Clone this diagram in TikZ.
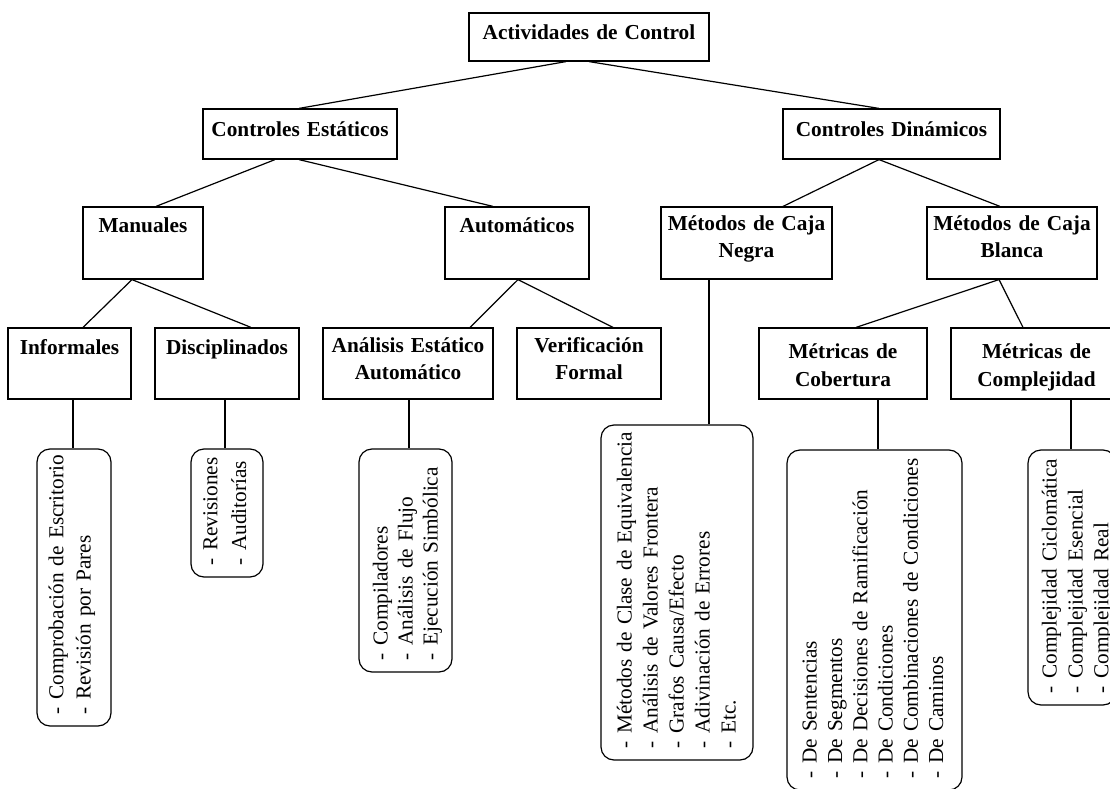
\documentclass[tikz,border=0pt]{standalone}
\usepackage{fontspec}
\setmainfont{Liberation Serif}
\newcommand{\lsttab}[1]{\begin{tabular}[t]{@{}l@{}}#1\end{tabular}}
\tikzset{
  hb/.style={draw, line width=1.2pt, rectangle, inner sep=0pt, align=center, font=\fontsize{21.3}{27}\selectfont\bfseries},
  lb/.style={draw, line width=1.2pt, rectangle, rounded corners=13pt, inner xsep=12pt, inner ysep=0pt, rotate=90, align=left},
  conn/.style={line width=1.2pt},
}
\begin{document}
\begin{tikzpicture}[x=1pt,y=-1pt]
\useasboundingbox (0,0) rectangle (1110,789);
\clip (0,0) rectangle (1110,789);

% header boxes
\node[hb, minimum width=240pt, text width=240pt, minimum height=48pt, text height=27pt, text depth=21pt] (root) at (589,37) {Actividades de Control};
\node[hb, minimum width=194pt, text width=194pt, minimum height=50pt, text height=27.5pt, text depth=22.5pt] (ce) at (300,134) {Controles Estáticos};
\node[hb, minimum width=217pt, text width=217pt, minimum height=50pt, text height=27.5pt, text depth=22.5pt] (cd) at (891.5,134) {Controles Dinámicos};
\node[hb, minimum width=120pt, text width=120pt, minimum height=72pt, text height=25pt, text depth=47pt] (man) at (143,243) {Manuales};
\node[hb, minimum width=144pt, text width=144pt, minimum height=72pt, text height=25pt, text depth=47pt] (aut) at (517,243) {Automáticos};
\node[hb, minimum width=171pt, text width=171pt, minimum height=72pt, text height=23pt, text depth=49pt] (mcn) at (746.5,243) {Métodos de Caja\\Negra};
\node[hb, minimum width=170pt, text width=170pt, minimum height=72pt, text height=23pt, text depth=49pt] (mcb) at (1012,243) {Métodos de Caja\\Blanca};
\node[hb, minimum width=123pt, text width=123pt, minimum height=71pt, text height=26pt, text depth=45pt] (inf) at (69.5,363.5) {Informales};
\node[hb, minimum width=144pt, text width=144pt, minimum height=71pt, text height=26pt, text depth=45pt] (dis) at (227,363.5) {Disciplinados};
\node[hb, minimum width=170pt, text width=170pt, minimum height=71pt, text height=24pt, text depth=47pt] (aea) at (408,363.5) {Análisis Estático\\Automático};
\node[hb, minimum width=144pt, text width=144pt, minimum height=71pt, text height=24pt, text depth=47pt] (ver) at (589,363.5) {Verificación\\Formal};
\node[hb, minimum width=168pt, text width=168pt, minimum height=71pt, text height=30pt, text depth=41pt, font=\fontsize{21.3}{28}\selectfont\bfseries] (mcob) at (843,363.5) {Métricas de\\Cobertura};
\node[hb, minimum width=171pt, text width=171pt, minimum height=71pt, text height=30pt, text depth=41pt, font=\fontsize{21.3}{28}\selectfont\bfseries] (mcomp) at (1036.5,363.5) {Métricas de\\Complejidad};

% list boxes (rotated)
\node[lb, minimum width=277pt, text width=253pt, minimum height=74pt, text height=26.3pt, text depth=47.7pt, font=\fontsize{21.3}{27.4}\selectfont] (infl) at (74,587.5)
  {\lsttab{- Comprobación de Escritorio\\- Revisión por Pares}};
\node[lb, minimum width=128pt, text width=104pt, minimum height=72pt, text height=26.3pt, text depth=45.7pt, font=\fontsize{21.3}{28.7}\selectfont] (disl) at (227,513)
  {\lsttab{- Revisiones\\- Auditorías}};
\node[lb, minimum width=223pt, text width=199pt, minimum height=93pt, text height=28.7pt, text depth=64.3pt, font=\fontsize{21.3}{25}\selectfont] (aeal) at (405.5,560.5)
  {\lsttab{- Compiladores\\- Análisis de Flujo\\- Ejecución Simbólica}};
\node[lb, minimum width=335pt, text width=311pt, minimum height=152pt, text height=30.7pt, text depth=121.3pt, font=\fontsize{21.3}{26}\selectfont] (mcnl) at (677,592.5)
  {\lsttab{- Métodos de Clase de Equivalencia\\- Análisis de Valores Frontera\\- Grafos Causa/Efecto\\- Adivinación de Errores\\- Etc.}};
\node[lb, minimum width=340pt, text width=316pt, minimum height=175pt, text height=29.7pt, text depth=145.3pt, font=\fontsize{21.3}{25.3}\selectfont] (mcobl) at (874.5,620)
  {\lsttab{- De Sentencias\\- De Segmentos\\- De Decisiones de Ramificación\\- De Condiciones\\- De Combinaciones de Condiciones\\- De Caminos}};
\node[lb, minimum width=255pt, text width=231pt, minimum height=88pt, text height=28.7pt, text depth=59.3pt, font=\fontsize{21.3}{25.8}\selectfont] (mcompl) at (1072,577.5)
  {\lsttab{- Complejidad Ciclomática\\- Complejidad Esencial\\- Complejidad Real}};

% connectors
\draw[conn] (root.south -| 566,0) -- (ce.north -| 299,0);
\draw[conn] (root.south -| 589,0) -- (cd.north -| 879,0);
\draw[conn] (ce.south -| 275,0) -- (man.north -| 156,0);
\draw[conn] (ce.south -| 299,0) -- (aut.north -| 493,0);
\draw[conn] (cd.south -| 879,0) -- (mcn.north -| 783,0);
\draw[conn] (cd.south -| 879,0) -- (mcb.north -| 1000,0);
\draw[conn] (man.south -| 132,0) -- (inf.north -| 83,0);
\draw[conn] (man.south -| 132,0) -- (dis.north -| 251,0);
\draw[conn] (aut.south -| 518,0) -- (aea.north -| 470,0);
\draw[conn] (aut.south -| 518,0) -- (ver.north -| 613,0);
\draw[conn] (mcb.south -| 999,0) -- (mcob.north -| 856,0);
\draw[conn] (mcb.south -| 999,0) -- (mcomp.north -| 1023,0);

\draw[conn] (inf.south -| 73,0) -- (infl.east -| 73,0);
\draw[conn] (dis.south -| 225,0) -- (disl.east -| 225,0);
\draw[conn] (aea.south -| 409,0) -- (aeal.east -| 409,0);
\draw[conn] (mcn.south -| 709,0) -- (mcnl.east -| 709,0);
\draw[conn] (mcob.south -| 878,0) -- (mcobl.east -| 878,0);
\draw[conn] (mcomp.south -| 1071,0) -- (mcompl.east -| 1071,0);
\end{tikzpicture}
\end{document}
